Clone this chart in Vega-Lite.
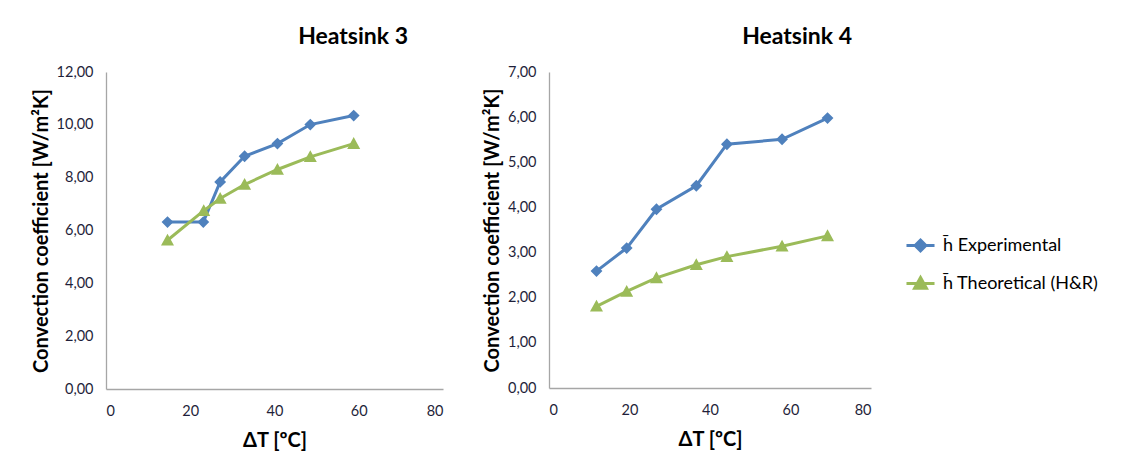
{
  "$schema": "https://vega.github.io/schema/vega-lite/v6.json",
  "background": "white",
  "padding": {"left": 31, "top": 26, "right": 5, "bottom": 5},
  "config": {
    "locale": {"number": {"decimal": ",", "thousands": ".", "grouping": [3], "currency": ["", " €"]}},
    "font": "Lato",
    "view": {"stroke": null},
    "axis": {
      "grid": false,
      "ticks": false,
      "domainColor": "#A6A6A6",
      "domainWidth": 1.3,
      "labelFont": "Lato",
      "labelFontSize": 14.5,
      "labelColor": "#1F1F3A",
      "labelPadding": 13,
      "titleFont": "Lato",
      "titleFontSize": 20,
      "titleFontWeight": "bold",
      "titleColor": "#000000"
    },
    "title": {"font": "Lato", "fontSize": 23, "fontWeight": "bold", "color": "#000000", "anchor": "end"}
  },
  "datasets": {
    "hs3": [
      {"series": "Experimental", "dT": 14.6, "h": 6.32},
      {"series": "Experimental", "dT": 23.1, "h": 6.32},
      {"series": "Experimental", "dT": 27.1, "h": 7.84},
      {"series": "Experimental", "dT": 32.9, "h": 8.81},
      {"series": "Experimental", "dT": 40.7, "h": 9.29},
      {"series": "Experimental", "dT": 48.5, "h": 10.01},
      {"series": "Experimental", "dT": 58.8, "h": 10.35},
      {"series": "Theoretical", "dT": 14.6, "h": 5.63},
      {"series": "Theoretical", "dT": 23.2, "h": 6.75},
      {"series": "Theoretical", "dT": 27.1, "h": 7.21},
      {"series": "Theoretical", "dT": 32.9, "h": 7.74},
      {"series": "Theoretical", "dT": 40.7, "h": 8.31},
      {"series": "Theoretical", "dT": 48.5, "h": 8.79},
      {"series": "Theoretical", "dT": 58.8, "h": 9.29}
    ],
    "hs4": [
      {"series": "Experimental", "dT": 11.8, "h": 2.59},
      {"series": "Experimental", "dT": 19.3, "h": 3.10},
      {"series": "Experimental", "dT": 26.7, "h": 3.96},
      {"series": "Experimental", "dT": 36.6, "h": 4.48},
      {"series": "Experimental", "dT": 44.2, "h": 5.40},
      {"series": "Experimental", "dT": 57.9, "h": 5.51},
      {"series": "Experimental", "dT": 69.2, "h": 5.98},
      {"series": "Theoretical", "dT": 11.8, "h": 1.81},
      {"series": "Theoretical", "dT": 19.3, "h": 2.14},
      {"series": "Theoretical", "dT": 26.7, "h": 2.44},
      {"series": "Theoretical", "dT": 36.6, "h": 2.73},
      {"series": "Theoretical", "dT": 44.2, "h": 2.91},
      {"series": "Theoretical", "dT": 57.9, "h": 3.14},
      {"series": "Theoretical", "dT": 69.2, "h": 3.37}
    ]
  },
  "spacing": 39,
  "resolve": {"scale": {"color": "shared", "shape": "shared"}, "legend": {"color": "shared", "shape": "shared"}},
  "hconcat": [
    {
      "width": 337,
      "height": 317,
      "title": {"text": "Heatsink 3", "dx": -35, "offset": 15},
      "data": {"name": "hs3"},
      "encoding": {
        "x": {"field": "dT", "type": "quantitative", "scale": {"domain": [0, 80], "nice": false}, "axis": {"values": [0, 20, 40, 60, 80], "format": "d", "title": "ΔT [ºC]", "labelPadding": 15, "titlePadding": 13}},
        "y": {"field": "h", "type": "quantitative", "scale": {"domain": [0, 12], "nice": false}, "axis": {"values": [0, 2, 4, 6, 8, 10, 12], "format": ".2f", "title": "Convection coefficient [W/m²K]", "titlePadding": 5}},
        "color": {"field": "series", "type": "nominal", "scale": {"domain": ["Experimental", "Theoretical"], "range": ["#4F81BD", "#9BBB59"]}}
      },
      "layer": [
        {"mark": {"type": "line", "strokeWidth": 3}},
        {"mark": {"type": "point", "filled": true, "opacity": 1, "size": 560},
         "encoding": {"shape": {"field": "series", "type": "nominal", "scale": {"domain": ["Experimental", "Theoretical"], "range": ["M-1.3,0L1.3,0M0,-0.5L0.5,0L0,0.5L-0.5,0Z", "M-1.3,0L1.3,0M0,-0.55L0.55,0.45L-0.55,0.45Z"]}}}}
      ]
    },
    {
      "width": 322,
      "height": 316,
      "title": {"text": "Heatsink 4", "dx": -19, "offset": 15},
      "data": {"name": "hs4"},
      "encoding": {
        "x": {"field": "dT", "type": "quantitative", "scale": {"domain": [0, 80], "nice": false}, "axis": {"values": [0, 20, 40, 60, 80], "format": "d", "title": "ΔT [ºC]", "labelPadding": 15, "titlePadding": 13}},
        "y": {"field": "h", "type": "quantitative", "scale": {"domain": [0, 7], "nice": false}, "axis": {"values": [0, 1, 2, 3, 4, 5, 6, 7], "format": ".2f", "title": "Convection coefficient [W/m²K]", "titlePadding": 5}},
        "color": {"field": "series", "type": "nominal", "scale": {"domain": ["Experimental", "Theoretical"], "range": ["#4F81BD", "#9BBB59"]},
          "legend": {"title": null, "orient": "none", "legendX": 802, "legendY": 161, "labelExpr": "datum.value == 'Experimental' ? 'h̄ Experimental' : 'h̄ Theoretical (H&R)'", "labelFont": "Lato", "labelFontSize": 18, "labelColor": "#000000", "labelOffset": 10, "symbolSize": 465, "rowPadding": 14, "symbolStrokeWidth": 3, "encode": {"symbols": {"update": {"stroke": {"scale": "color", "field": "value"}, "strokeWidth": {"value": 3}}}}}},
        "shape": {"field": "series", "type": "nominal", "scale": {"domain": ["Experimental", "Theoretical"], "range": ["M-1.3,0L1.3,0M0,-0.5L0.5,0L0,0.5L-0.5,0Z", "M-1.3,0L1.3,0M0,-0.55L0.55,0.45L-0.55,0.45Z"]},
          "legend": {"title": null, "orient": "none", "legendX": 802, "legendY": 161, "labelExpr": "datum.value == 'Experimental' ? 'h̄ Experimental' : 'h̄ Theoretical (H&R)'", "labelFont": "Lato", "labelFontSize": 18, "labelColor": "#000000", "labelOffset": 10, "symbolSize": 465, "rowPadding": 14, "symbolStrokeWidth": 3, "encode": {"symbols": {"update": {"stroke": {"scale": "color", "field": "value"}, "strokeWidth": {"value": 3}}}}}}
      },
      "layer": [
        {"mark": {"type": "line", "strokeWidth": 3}},
        {"mark": {"type": "point", "filled": true, "opacity": 1, "size": 560}}
      ]
    }
  ]
}
